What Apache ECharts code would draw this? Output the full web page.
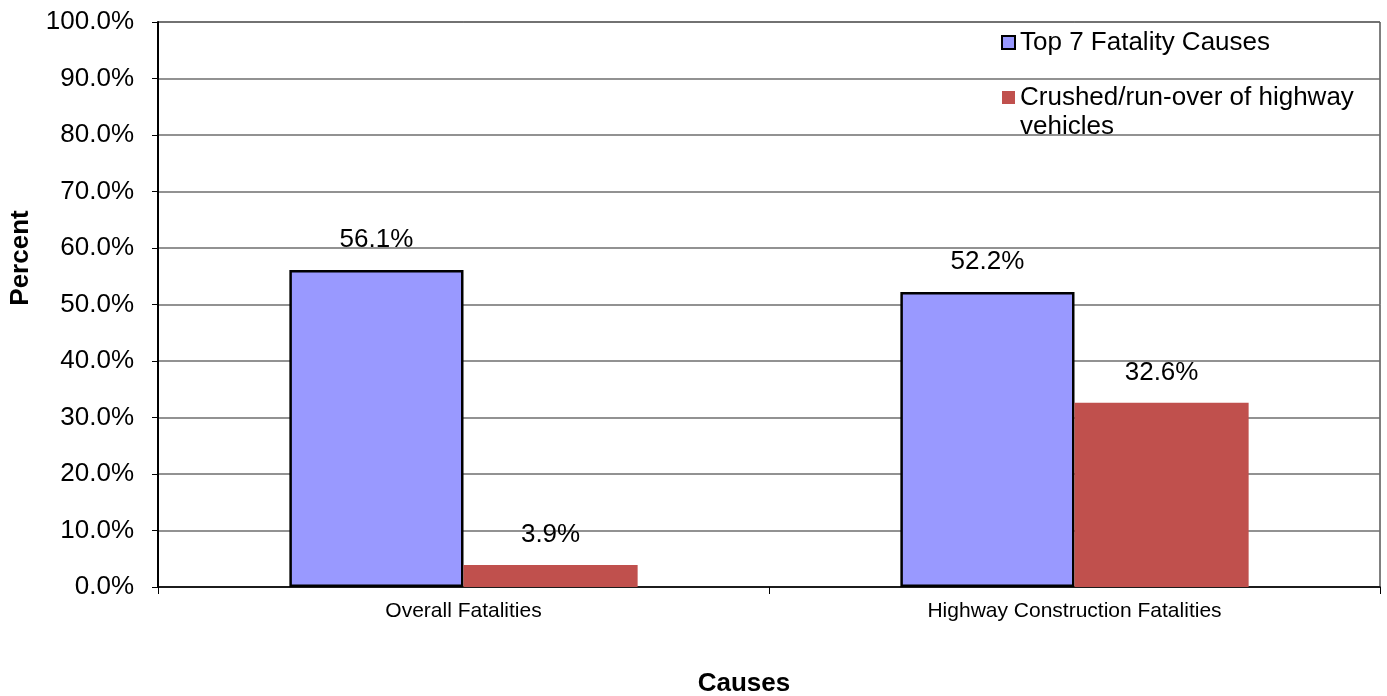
<!DOCTYPE html>
<html>
<head>
<meta charset="utf-8">
<title>Fatality causes</title>
<script src="https://cdn.jsdelivr.net/npm/echarts@6/dist/echarts.min.js"></script>
<style>
  html, body { margin: 0; padding: 0; background: #fff; }
  #chart { width: 1387px; height: 696px; }
</style>
</head>
<body>
<div id="chart"></div>
<script>
// Categories along the x axis
const categories = ['Overall Fatalities', 'Highway Construction Fatalities'];

// Series names
const seriesNames = ['Top 7 Fatality Causes', 'Crushed/run-over of highway vehicles'];

// Percent values per category
const topSevenValues = [56.1, 52.2];
const crushedValues = [3.9, 32.6];

// Y axis range (percent)
const yMin = 0;
const yMax = 100;
const yStep = 10;

const FONT = '"Liberation Sans", Arial, sans-serif';
const LINE = 29;
const pct = v => v.toFixed(1) + '%';

const chart = echarts.init(document.getElementById('chart'), null, { renderer: 'canvas' });

chart.setOption({
  backgroundColor: '#ffffff',
  animation: false,
  textStyle: { fontFamily: FONT, color: '#000' },
  grid: {
    left: 158, right: 7, top: 22, bottom: 109,
    show: true, borderColor: '#000', borderWidth: 1, backgroundColor: 'transparent'
  },
  legend: {
    orient: 'vertical',
    left: 1001,
    top: 28,
    padding: 0,
    itemWidth: 13,
    itemHeight: 13,
    itemGap: -3,
    icon: 'rect',
    textStyle: { fontFamily: FONT, fontSize: 26, color: '#000', lineHeight: LINE },
    // the wrapped entry gets an empty leading line so its marker sits beside the first text line
    formatter: name => name === seriesNames[1]
      ? '\nCrushed/run-over of highway\nvehicles'
      : name,
    data: seriesNames
  },
  xAxis: {
    type: 'category',
    data: categories,
    axisLine: { lineStyle: { color: '#000', width: 1.5 } },
    axisTick: { show: true, length: 7, lineStyle: { color: '#000' } },
    axisLabel: { fontFamily: FONT, fontSize: 21, color: '#000', margin: 14 }
  },
  yAxis: {
    type: 'value',
    min: yMin, max: yMax, interval: yStep,
    axisLine: { show: true, lineStyle: { color: '#000', width: 2 } },
    axisTick: { show: true, length: 6, lineStyle: { color: '#000' } },
    axisLabel: { fontFamily: FONT, fontSize: 26, color: '#000', margin: 24, formatter: pct },
    splitLine: { show: true, lineStyle: { color: '#6e6e6e', width: 1.5 } }
  },
  series: [
    {
      name: seriesNames[0],
      type: 'bar',
      data: topSevenValues,
      barGap: '0%',
      barCategoryGap: '43%',
      itemStyle: { color: '#9999FF', borderColor: '#000', borderWidth: 2.5 },
      label: {
        show: true, position: 'top', distance: 17,
        fontFamily: FONT, fontSize: 26, color: '#000',
        formatter: p => pct(p.value)
      }
    },
    {
      name: seriesNames[1],
      type: 'bar',
      data: crushedValues,
      itemStyle: { color: '#C0504D' },
      label: {
        show: true, position: 'top', distance: 17,
        fontFamily: FONT, fontSize: 26, color: '#000',
        formatter: p => pct(p.value)
      }
    }
  ],
  graphic: [
    {
      type: 'text',
      x: 21, y: 258,
      rotation: Math.PI / 2,
      style: {
        text: 'Percent', fontFamily: FONT, fontSize: 26, fontWeight: 'bold',
        fill: '#000', align: 'center', verticalAlign: 'middle'
      }
    },
    {
      type: 'text',
      x: 744, y: 684,
      style: {
        text: 'Causes', fontFamily: FONT, fontSize: 26, fontWeight: 'bold',
        fill: '#000', align: 'center', verticalAlign: 'middle'
      }
    }
  ]
});
</script>
</body>
</html>
